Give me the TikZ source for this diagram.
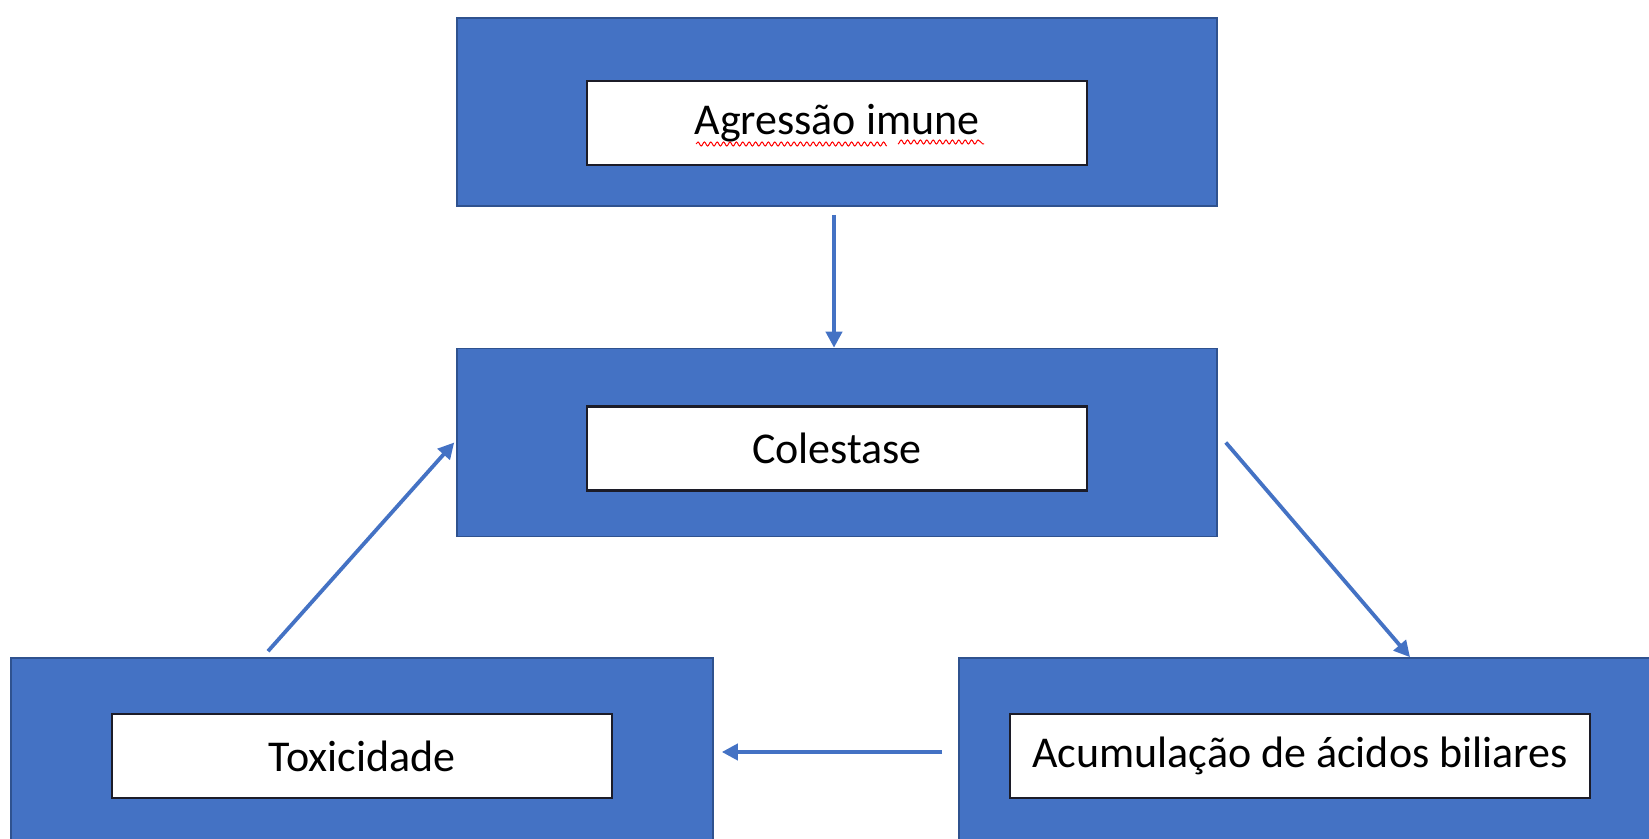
\documentclass[tikz,border=0pt]{standalone}
\usepackage{fontspec}
\setmainfont{Carlito}
\usetikzlibrary{positioning,arrows.meta,decorations.pathmorphing}
\definecolor{officeblue}{HTML}{4472C4}
\definecolor{officeedge}{HTML}{2F528F}
\definecolor{labeledge}{HTML}{1C1C28}

\begin{document}
\begin{tikzpicture}[x=0.5pt,y=-0.5pt,on grid,
    outer/.style={draw=officeedge,fill=officeblue,line width=0.8pt,minimum width=380pt,minimum height=94pt},
    label/.style={draw=labeledge,fill=white,line width=1.1pt,minimum width=250pt,minimum height=42pt,font=\fontsize{22}{26}\selectfont},
    flow/.style={draw=officeblue,line width=1.9pt,-{Triangle[length=8pt,width=8pt]}}]
  \useasboundingbox (0,0) rectangle (1649,839);
  \clip (0,0) rectangle (1649,839);
  % outer blue boxes
  \node[outer] (agr) at (837,112) {};
  \node[outer] (col) [below=165.25pt of agr] {};
  \node[outer,minimum width=351pt] (tox) [below left=154.75pt and 237.5pt of col] {};
  \node[outer,minimum width=351pt] (acu) [below right=154.75pt and 236.5pt of col] {};
  % white labels
  \node[label] (agr_t) at ([yshift=-5.5pt]agr.center) {Agressão imune};
  \node[label] (col_t) at ([yshift=-3pt]col.center) {Colestase};
  \node[label] (tox_t) at ([yshift=-2pt]tox.center) {Toxicidade};
  \node[label,minimum width=290pt] (acu_t) at ([xshift=-5pt,yshift=-2pt]acu.center) {Acumulação de ácidos biliares};
  % spell check underline
  \draw[red,line width=0.5pt,decorate,decoration={snake,amplitude=1pt,segment length=3.2pt}]
    ([xshift=-70.5pt,yshift=-10.5pt]agr_t.center) -- ([xshift=23.5pt,yshift=-10.5pt]agr_t.center)
    ([xshift=30.5pt,yshift=-10.5pt]agr_t.center) -- ([xshift=73.5pt,yshift=-10.5pt]agr_t.center);
  % arrows
  \draw[flow] ([xshift=-1.5pt,yshift=-4pt]agr.south) -- ([xshift=-1.5pt]col.north);
  \draw[flow] ([xshift=4pt]col.east) -- ([xshift=50pt]acu.north);
  \draw[flow] ([xshift=-8pt]acu.west) -- ([xshift=4pt]tox.east);
  \draw[flow] ([xshift=-47pt,yshift=3pt]tox.north) -- ([xshift=-1pt]col.west);
\end{tikzpicture}
\end{document}
